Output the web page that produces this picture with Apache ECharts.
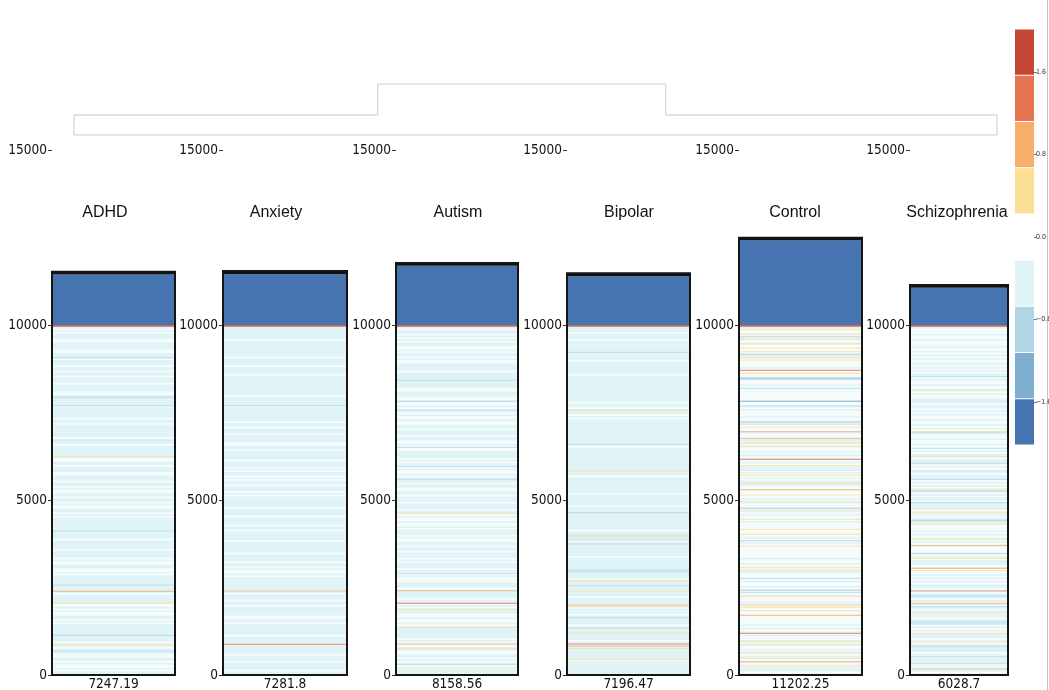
<!DOCTYPE html>
<html>
<head>
<meta charset="utf-8">
<script src="https://cdn.jsdelivr.net/npm/echarts@6/dist/echarts.min.js"></script>
<style>
  html, body { margin: 0; padding: 0; background: #fff; }
  #chart { width: 1049px; height: 690px; }
</style>
</head>
<body>
<div id="chart"></div>
<script>
// ---- data -------------------------------------------------------------
const groups = ['ADHD', 'Anxiety', 'Autism', 'Bipolar', 'Control', 'Schizophrenia'];
const scoreLabels = ['7247.19', '7281.8', '8158.56', '7196.47', '11202.25', '6028.7'];

// height of the dark-blue block above the heat rows, and of the black cap
const blockTops = [11440, 11450, 11690, 11390, 12420, 11065];
const capTops   = [11525, 11540, 11775, 11480, 12495, 11145];

// background rows, top (10000) to bottom (0), one char per row band:
// c = light cyan, w = near zero (white), b = light blue
const adhdBase =
  'ccwcwcccwwccccwwcccwcccwc' + 'cwccwcccwccccwwccccccwccc' +
  'cccwccwcccccccwwccwcccccc' + 'cwwccwcccwwcccwccwcwwccwc' +
  'cwcwwccwcwccccccccccccwcc' + 'cccwccccwcwwccwwcwccccccc' +
  'cccwcccccwwcwcwwccwcwcccc' + 'ccccccwccwcccwwccwcwwcwcc';
const anxietyBase =
  'ccccccccwcccccccccwccccwc' + 'cccwcccccccccccwcccccwccc' +
  'cccccwccwcccwccccwwccwccc' + 'ccwcccwcwccwcwccwcccwcwcc' +
  'ccccwccccwccccwccwcccccwc' + 'cccccwccccwccwcwwcwcccccc' +
  'cccwcccwccwcccccwwccwcccc' + 'ccwccccwcccccwcccwccccwcc';
const autismBase =
  'ccwccwcwcwccwwcwccwcwwccc' + 'cwcccccccccwwcccwwcwwcwcc' +
  'wcwwcwwccwcccwccwwcwwwccc' + 'cwcwccwcwwcwcccwccwwccwcc' +
  'cwcccwccwcwwcwwcwcccwcwwc' + 'cwccwcccwcwcccwcwwcwwwccc' +
  'wwccccwccwcwcccwwcwwcwccc' + 'ccccwcwcwccwwccwcwcwcwccc';
const bipolarBase =
  'ccccwcccwcccccccccccwcccc' + 'cccwcccccccccccccccwccwcc' +
  'cwcwcccccccccccccccwccccc' + 'cccccccccccwcccccccccwccc' +
  'cccwcccccccccccccwcccccwc' + 'cccccccwccccccccccccwcccc' +
  'cccccwcccccwcccwcccccwccc' + 'cccccwccccccccccwcccccccc';
const controlBase =
  'ccwwwcwcwwcwwwwwccwwwwwwc' + 'wwwwwcwwwcwwwwwwwwcwwcwcw' +
  'wwcwwwcwcwwcwwwcccwcwwcwc' + 'wcwcwwcwwcwwcwcccwwwwwwwc' +
  'wcwwcwcwcwwwcwwwwwwwwcwwc' + 'wwwwwwwwcwwcwwwccwwwwcwwc' +
  'wcwwcwwwcwwwwwwwwwwwwcwcw' + 'cwcwwcwcwwcwcwcwwcwcwccwc';
const schizBase =
  'ccwwwcwwcwwwcwwcwcwcwwcwc' + 'wcwccwcwwcwwcwcwwcwcwccwc' +
  'wcwwcwwcwcwbcwwcwwcwwwcwc' + 'cwccbwcwwcwcccwcwcwcbwcwc' +
  'cwcccwwcwcwcbwcwwwcwcwcwc' + 'wcwwwwcwcwcccwcwwwcwcwcwc' +
  'cwcwcbcwcwcwcwccwcwcbcwcw' + 'cwcccwcwcbcwcwcwcccwcwbcwc';

// single thin rows: [position, level code]
// m = medium blue, b = light blue, y = yellow, o = orange, r = orange-red
const adhdLines = [[9067,'b'],[7933,'b'],[7695,'b'],[6714,'b'],[6238,'y'],[4114,'b'],
  [2571,'b'],[2390,'o'],[2048,'y'],[1133,'b'],[876,'y'],[686,'b']];
const anxietyLines = [[7695,'b'],[2400,'o'],[876,'r']];
const autismLines = [[8419,'b'],[7819,'b'],[7571,'b'],[6505,'b'],[5952,'b'],[5590,'b'],
  [4619,'y'],[2905,'b'],[2410,'o'],[2048,'r'],[1876,'y'],[1362,'y'],[886,'o'],[752,'y'],
  [305,'b'],[171,'y']];
const bipolarLines = [[9219,'b'],[7562,'y'],[6590,'b'],[5838,'y'],[4638,'b'],[4000,'b'],
  [3952,'y'],[3857,'b'],[3743,'b'],[3000,'b'],[2952,'b'],[2695,'y'],[2552,'b'],[2400,'y'],
  [2000,'o'],[1952,'y'],[1638,'b'],[1333,'b'],[1190,'y'],[886,'r'],[829,'o'],[762,'y'],[448,'y']];
const controlLines = [[9876,'y'],[9743,'y'],[9667,'b'],[9590,'y'],[9457,'y'],
  [9343,'y'],[9238,'y'],[9152,'b'],[9067,'y'],[9000,'y'],[8705,'r'],[8619,'y'],[8495,'b'],
  [8457,'m'],[8190,'b'],[7819,'m'],[7686,'b'],[7229,'m'],[7162,'y'],[6952,'o'],[6762,'o'],
  [6619,'y'],[6543,'y'],[6162,'r'],[5981,'y'],[5857,'b'],[5705,'y'],[5476,'y'],[5295,'o'],
  [5143,'y'],[4952,'y'],[4762,'b'],[4714,'y'],[4448,'y'],[4162,'y'],[4019,'y'],[3838,'b'],
  [3686,'y'],[3076,'y'],[3000,'y'],[2762,'b'],[2419,'b'],[2362,'b'],[2238,'y'],[2000,'o'],
  [1933,'y'],[1838,'y'],[1705,'o'],[1190,'r'],[952,'y'],[857,'y'],[648,'y'],[476,'y'],
  [381,'o'],[238,'y']];
const schizLines = [[8524,'b'],[8143,'y'],[7829,'b'],[6952,'y'],[6476,'b'],[6238,'y'],
  [5829,'b'],[5590,'b'],[5305,'y'],[4924,'b'],[4752,'y'],[4619,'y'],[4429,'b'],[4333,'y'],
  [3876,'y'],[3695,'o'],[3476,'b'],[3333,'y'],[3048,'o'],[2981,'y'],[2400,'r'],[2048,'o'],
  [1952,'b'],[1714,'y'],[1457,'b'],[1190,'y'],[952,'y'],[714,'b'],[524,'b'],[333,'b'],[190,'y']];

const panelBases = [adhdBase, anxietyBase, autismBase, bipolarBase, controlBase, schizBase];
const panelLines = [adhdLines, anxietyLines, autismLines, bipolarLines, controlLines, schizLines];

// dendrogram outline over the panels: [position, merge height]
const dendroPath = [[0,0],[0,1],[0.329,1],[0.329,2.55],[0.641,2.55],[0.641,1],[1,1],[1,0],[0,0]];

// colour bar: bin edges and level codes
const legendEdges = [-2.02, -1.571, -1.122, -0.673, -0.224, 0.224, 0.673, 1.122, 1.571, 2.02];
const legendCodes = ['B', 'm', 'b', 'c', 'w', 'y', 'o', 'r', 'R'];
const legendTicks = [-1.6, -0.8, 0, 0.8, 1.6];

// ---- styling ----------------------------------------------------------
const levelColors = {
  B: '#4674b0', m: '#7eaed0', b: '#b1d7e7', c: '#e0f3f7', w: '#ffffff',
  y: '#fbdf95', o: '#f7ae6a', r: '#e5734f', R: '#c44733', k: '#111111'
};
const NUM_FONT = '"DejaVu Sans Condensed", "Liberation Sans Narrow", "DejaVu Sans", sans-serif';
const TITLE_FONT = '"Liberation Sans", Arial, sans-serif';

const HEAT_TOP = 10000;
const LINE_H = 32;

const panelLeft  = [52, 223, 396, 567, 739, 910];
const panelWidth = [123, 124, 122, 123, 123, 98];
const titleX     = [105, 276, 458, 629, 795, 957];

// rows: [from, to, level, opacity]
function buildRows(base, lines, blockTop, capTop) {
  const rows = [[0, HEAT_TOP, 'c', 1]];
  const step = HEAT_TOP / base.length;
  for (let i = 0; i < base.length; i++) {
    const ch = base[i];
    if (ch === 'c') continue;
    const hi = HEAT_TOP - i * step;
    rows.push([hi - step, hi, ch, ch === 'w' ? 0.72 : 0.55]);
  }
  lines.forEach(([v, ch]) => rows.push([v - LINE_H / 2, v + LINE_H / 2, ch, 0.7]));
  rows.push([HEAT_TOP - 50, HEAT_TOP, 'R', 0.8]);
  rows.push([HEAT_TOP, blockTop, 'B', 1]);
  rows.push([blockTop, capTop, 'k', 1]);
  return rows;
}

function rowRenderer(rows) {
  return function (params, api) {
    const r = rows[params.dataIndex];
    const lo = api.coord([0, r[0]]);
    const hi = api.coord([0, r[1]]);
    const w = api.size([1, 0])[0];
    return {
      type: 'rect',
      shape: { x: lo[0] - w / 2, y: hi[1], width: w, height: lo[1] - hi[1] },
      style: { fill: levelColors[r[2]], opacity: r[3] }
    };
  };
}

function frameRenderer(params, api) {
  const lo = api.coord([0, api.value(1)]);
  const hi = api.coord([0, api.value(2)]);
  const w = api.size([1, 0])[0];
  return {
    type: 'rect',
    shape: { x: lo[0] - w / 2, y: hi[1], width: w, height: lo[1] - hi[1] },
    style: { fill: 'none', stroke: '#151515', lineWidth: 2 }
  };
}

const grid = [], xAxis = [], yAxis = [], series = [];

groups.forEach((g, i) => {
  grid.push({ left: panelLeft[i], width: panelWidth[i], top: 150, height: 525, outerBoundsMode: 'none' });
  xAxis.push({
    type: 'category', gridIndex: i, data: [scoreLabels[i]],
    axisLine: { show: false }, axisTick: { show: false },
    axisLabel: { color: '#111', fontSize: 13.5, fontFamily: NUM_FONT, margin: 2 }
  });
  yAxis.push({
    type: 'value', gridIndex: i, min: 0, max: 15000, interval: 5000,
    axisLine: { show: false }, splitLine: { show: false },
    axisTick: { show: true, length: 4, lineStyle: { color: '#333' } },
    axisLabel: { color: '#111', fontSize: 13.5, fontFamily: NUM_FONT, margin: 5, formatter: v => String(v) }
  });
  const rows = buildRows(panelBases[i], panelLines[i], blockTops[i], capTops[i]);
  series.push({
    type: 'custom', xAxisIndex: i, yAxisIndex: i,
    data: rows.map(r => [0, r[0], r[1]]),
    encode: { x: 0, y: [1, 2] },
    renderItem: rowRenderer(rows), silent: true, z: 2
  });
  series.push({
    type: 'custom', xAxisIndex: i, yAxisIndex: i,
    data: [[0, 0, capTops[i]]],
    encode: { x: 0, y: [1, 2] },
    renderItem: frameRenderer, silent: true, z: 3
  });
});

// dendrogram
grid.push({ left: 74, width: 923, top: 84, height: 51, outerBoundsMode: 'none' });
xAxis.push({ type: 'value', gridIndex: 6, min: 0, max: 1, show: false });
yAxis.push({ type: 'value', gridIndex: 6, min: 0, max: 2.55, show: false });
series.push({
  type: 'line', xAxisIndex: 6, yAxisIndex: 6, data: dendroPath,
  showSymbol: false, symbol: 'none', silent: true,
  lineStyle: { color: '#d9d9d9', width: 1.4 }
});

// colour bar
const legendRows = legendCodes.map((c, k) => [legendEdges[k], legendEdges[k + 1], c]);
grid.push({ left: 1015, width: 19, top: 29, height: 416, outerBoundsMode: 'none' });
xAxis.push({ type: 'category', gridIndex: 7, data: [''], show: false });
yAxis.push({
  type: 'value', gridIndex: 7, position: 'right', min: -2.02, max: 2.02,
  axisLine: { show: false }, splitLine: { show: false },
  axisTick: { show: true, customValues: legendTicks, length: 3, lineStyle: { color: '#555', width: 0.8 } },
  axisLabel: {
    customValues: legendTicks, color: '#333', fontSize: 7, fontFamily: NUM_FONT, margin: 2,
    formatter: v => Number(v).toFixed(1).replace('-', '\u2212')
  }
});
series.push({
  type: 'custom', xAxisIndex: 7, yAxisIndex: 7,
  data: legendRows.map(r => [0, r[0], r[1]]),
  encode: { x: 0, y: [1, 2] },
  renderItem: function (params, api) {
    const r = legendRows[params.dataIndex];
    const lo = api.coord([0, r[0]]);
    const hi = api.coord([0, r[1]]);
    const w = api.size([1, 0])[0];
    return {
      type: 'rect',
      shape: { x: lo[0] - w / 2, y: hi[1] + 0.5, width: w, height: lo[1] - hi[1] - 1 },
      style: { fill: levelColors[r[2]] }
    };
  },
  silent: true
});

const graphic = groups.map((g, i) => ({
  type: 'text', x: titleX[i], y: 213, silent: true,
  style: { text: g, font: '16px ' + TITLE_FONT, fill: '#111', align: 'center', verticalAlign: 'middle' }
}));
graphic.push({
  type: 'line', silent: true,
  shape: { x1: 1047.5, y1: 0, x2: 1047.5, y2: 690 },
  style: { stroke: '#c4c4c4', lineWidth: 1 }
});

const chart = echarts.init(document.getElementById('chart'), null, { renderer: 'canvas' });
chart.setOption({
  animation: false,
  backgroundColor: '#ffffff',
  grid, xAxis, yAxis, series, graphic
});
</script>
</body>
</html>
